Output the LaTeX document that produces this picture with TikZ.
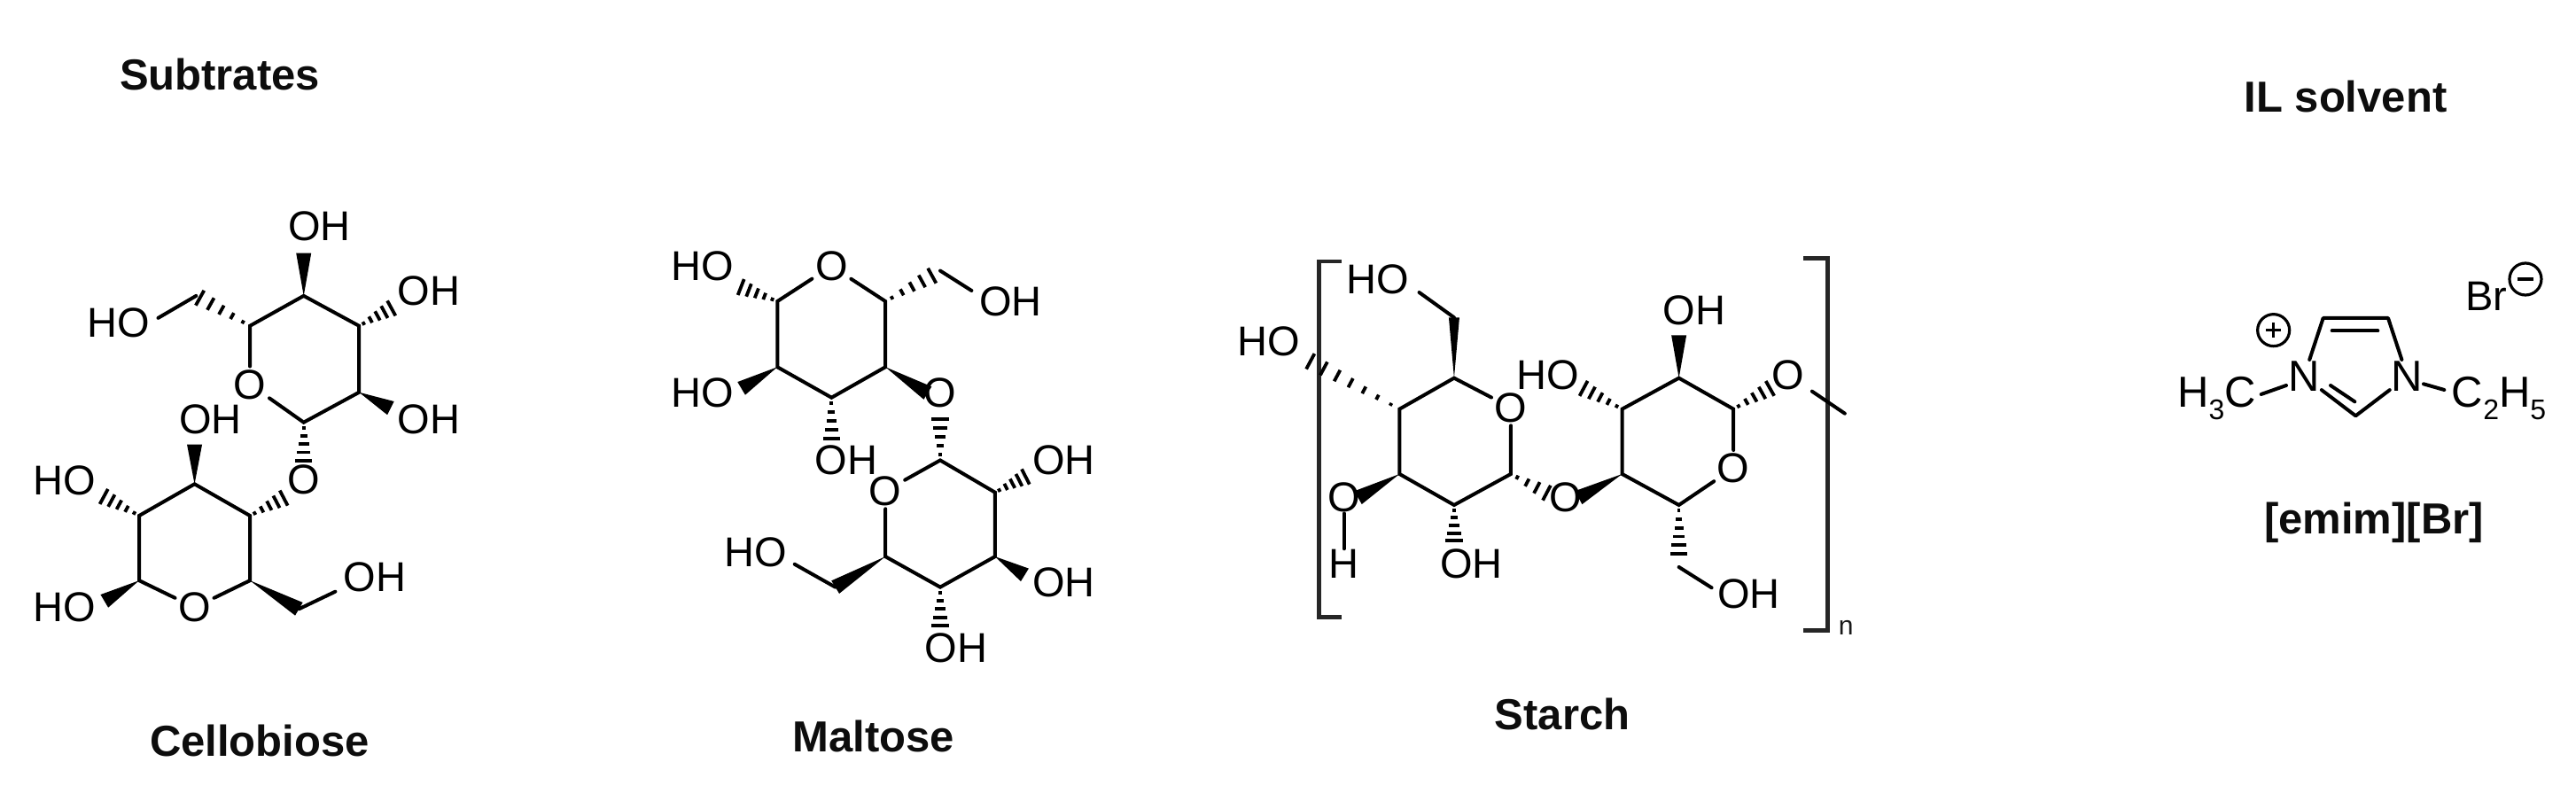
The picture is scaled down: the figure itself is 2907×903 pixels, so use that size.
\documentclass[tikz,border=0pt]{standalone}
\usepackage{fontspec}
\setmainfont{Liberation Sans}
\usetikzlibrary{calc}
\newcommand\subsc[1]{\raisebox{-0.28em}{\fontsize{32}{32}\selectfont #1}}
\newcommand\wdg[3][8.5]{\fill[black,line join=round] (#2) -- ($(#3)!#1pt!90:(#2)$) -- ($(#3)!#1pt!-90:(#2)$) -- cycle;}
\newcommand\hsh[3][5]{\foreach \hI in {1,...,#1}{%
  \pgfmathsetmacro\hT{(\hI-0.35)/#1}\pgfmathsetmacro\hW{\hT*9.5+0.8}%
  \draw[hashline] ($(#2)!\hT!(#3)!\hW pt!90:(#3)$) -- ($(#2)!\hT!(#3)!\hW pt!-90:(#3)$);}}
\tikzset{
  atomlabel/.style={font=\fontsize{47}{50}\selectfont,inner sep=3.5pt,text=black},
  title/.style={font=\fontsize{49}{54}\selectfont\bfseries,inner sep=0pt,text=black!95},
  bondline/.style={line width=4pt,line cap=round,black},
  hashline/.style={line width=3.8pt,black},
  bracketline/.style={line width=4.8pt,black!85,line join=miter},
  chargering/.style={circle,draw=black,line width=3.2pt,minimum size=36pt,inner sep=0pt},
}
\begin{document}
\begin{tikzpicture}[x=1pt,y=-1pt]
\useasboundingbox (0,0) rectangle (2907,903);
\fill[white] (0,0) rectangle (2907,903);
% titles
\node[title] (tsub) at (248,84) {Subtrates};
\node[title] (tcel) at (293,836) {Cellobiose};
\node[title] (tmal) at (986,831) {Maltose};
\node[title] (tsta) at (1763,806) {Starch};
\node[title] (tils) at (2647,109) {IL solvent};
\node[title] (tem) at (2679,590) {[emim][Br]};

% ---------- Cellobiose
\begin{scope}[shift={(0,200)},x=0.357pt,y=-0.357pt]
\coordinate (a1) at (790,470); \coordinate (a2) at (960,375); \coordinate (a3) at (1135,470);
\coordinate (a4) at (1135,680); \coordinate (a5) at (960,775);
\node[atomlabel] (aO) at (790,655) {O};
\node[atomlabel] (aOb) at (960,955) {O};
\node[atomlabel] (aoh1) at (1010,155) {OH};
\node[atomlabel] (aoh2) at (1355,360) {OH};
\node[atomlabel] (aoh3) at (1355,765) {OH};
\node[atomlabel] (aho) at (375,460) {HO};
\coordinate (ae1) at (960,240); \coordinate (ae2) at (1245,410); \coordinate (ae3) at (1235,730);
\coordinate (ach) at (620,375); \coordinate (ae4) at (960,905); \coordinate (ae5) at (500,445);
\draw[bondline] (aO) -- (a1) -- (a2) -- (a3) -- (a4) -- (a5) -- (aO);
\wdg{a2}{ae1} \hsh{a3}{ae2} \wdg{a4}{ae3} \hsh{a1}{ach} \hsh{a5}{ae4}
\draw[bondline] (ach) -- (ae5);
\coordinate (b1) at (790,1070); \coordinate (b2) at (615,970); \coordinate (b3) at (440,1070);
\coordinate (b4) at (440,1275); \coordinate (b5) at (790,1275);
\node[atomlabel] (bO) at (615,1360) {O};
\node[atomlabel] (boh1) at (665,765) {OH};
\node[atomlabel] (bho1) at (205,960) {HO};
\node[atomlabel] (bho2) at (205,1360) {HO};
\node[atomlabel] (boh2) at (1185,1265) {OH};
\coordinate (be1) at (615,845); \coordinate (be2) at (320,1005); \coordinate (be3) at (905,1010);
\coordinate (be4) at (330,1340); \coordinate (bch) at (945,1365); \coordinate (be5) at (1060,1310);
\draw[bondline] (b4) -- (b3) -- (b2) -- (b1) -- (b5) -- (bO) -- (b4);
\wdg{b2}{be1} \hsh{b3}{be2} \hsh{b1}{be3} \wdg{b4}{be4} \wdg{b5}{bch}
\draw[bondline] (bch) -- (be5);
\end{scope}

% ---------- Maltose
\begin{scope}[shift={(720,240)},x=0.3534pt,y=-0.345pt]
\node[atomlabel] (cO) at (618,175) {O};
\coordinate (c1) at (445,290); \coordinate (c2) at (445,505); \coordinate (c3) at (618,605);
\coordinate (c4) at (790,505); \coordinate (c5) at (790,290);
\node[atomlabel] (cho1) at (205,175) {HO};
\node[atomlabel] (cho2) at (205,590) {HO};
\node[atomlabel] (coh1) at (1190,290) {OH};
\node[atomlabel] (coh2) at (665,810) {OH};
\node[atomlabel] (cOb) at (965,590) {O};
\coordinate (ce1) at (320,240); \coordinate (cch) at (950,200); \coordinate (ce2) at (1065,255);
\coordinate (ce3) at (330,575); \coordinate (ce4) at (618,750); \coordinate (ce5) at (925,590);
\coordinate (ch0) at (965,190);
\draw[bondline] (cO) -- (c1) -- (c2) -- (c3) -- (c4) -- (c5) -- (cO);
\hsh{c1}{ce1} \hsh{c5}{cch} \draw[bondline] (ch0) -- (ce2);
\wdg{c2}{ce3} \hsh{c3}{ce4} \wdg{c4}{ce5}
\coordinate (d1) at (965,810); \coordinate (d2) at (1140,915); \coordinate (d3) at (1140,1125);
\coordinate (d4) at (965,1225); \coordinate (d5) at (790,1125);
\node[atomlabel] (dO) at (790,910) {O};
\node[atomlabel] (doh1) at (1360,810) {OH};
\node[atomlabel] (doh2) at (1360,1210) {OH};
\node[atomlabel] (doh3) at (1015,1425) {OH};
\node[atomlabel] (dho) at (375,1110) {HO};
\coordinate (de0) at (965,665); \coordinate (de1) at (1245,860); \coordinate (de2) at (1235,1185);
\coordinate (de3) at (965,1360); \coordinate (dch) at (630,1225); \coordinate (de4) at (500,1150);
\draw[bondline] (dO) -- (d1) -- (d2) -- (d3) -- (d4) -- (d5) -- (dO);
\hsh{d1}{de0} \hsh{d2}{de1} \wdg{d3}{de2} \hsh{d4}{de3} \wdg{d5}{dch}
\draw[bondline] (dch) -- (de4);
\end{scope}

% ---------- Starch
\begin{scope}[shift={(1370,260)},x=0.4926pt,y=-0.3333pt]
\coordinate (bl1) at (292,105); \coordinate (bl2) at (240,105); \coordinate (bl3) at (240,1310); \coordinate (bl4) at (292,1310);
\coordinate (br1) at (1350,95); \coordinate (br2) at (1405,95); \coordinate (br3) at (1405,1355); \coordinate (br4) at (1350,1355);
\draw[bracketline] (bl1) -- (bl2) -- (bl3) -- (bl4);
\draw[bracketline] (br1) -- (br2) -- (br3) -- (br4);
\node[font=\fontsize{30}{32}\selectfont,inner sep=0pt,text=black!90] (nn) at (1448,1345) {n};
\coordinate (e1) at (550,500); \coordinate (e3) at (680,825); \coordinate (e4) at (550,930);
\coordinate (e5) at (425,825); \coordinate (e6) at (425,605);
\node[atomlabel] (eO) at (680,600) {O};
\node[atomlabel] (eho1) at (375,165) {HO};
\node[atomlabel] (eho2) at (125,375) {HO};
\node[atomlabel,inner sep=1pt] (eOh) at (298,905) {O};
\node[atomlabel,inner sep=1pt] (eH) at (298,1130) {H};
\node[atomlabel] (eoh) at (590,1130) {OH};
\node[atomlabel] (eOb) at (805,905) {O};
\coordinate (ech) at (550,295); \coordinate (ee1) at (470,210); \coordinate (ee2) at (210,435);
\coordinate (ee3) at (330,905); \coordinate (ee4) at (550,1060); \coordinate (ee5) at (770,895);
\draw[bondline] (eO) -- (e1) -- (e6) -- (e5) -- (e4) -- (e3) -- (eO);
\wdg[6]{e1}{ech} \draw[bondline] (ech) -- (ee1);
\hsh[7]{e6}{ee2} \wdg{e5}{ee3} \draw[bondline] (eOh) -- (eH);
\hsh{e4}{ee4} \hsh[4]{e3}{ee5}
\coordinate (f1) at (1065,500); \coordinate (f2) at (1190,605); \coordinate (f4) at (1065,930);
\coordinate (f5) at (935,825); \coordinate (f6) at (935,605);
\node[atomlabel] (fO) at (1190,805) {O};
\node[atomlabel] (foh1) at (1100,270) {OH};
\node[atomlabel] (fho) at (765,490) {HO};
\node[atomlabel] (fOe) at (1315,490) {O};
\node[atomlabel] (foh2) at (1225,1230) {OH};
\coordinate (fe1) at (1065,355); \coordinate (fe2) at (840,530); \coordinate (fe3) at (1280,530);
\coordinate (fe4) at (835,905); \coordinate (fe5) at (1065,1105); \coordinate (fe6) at (1065,1140);
\coordinate (fe7) at (1140,1210); \coordinate (fe8) at (1370,545); \coordinate (fe9) at (1445,620);
\draw[bondline] (fO) -- (f2) -- (f1) -- (f6) -- (f5) -- (f4) -- (fO);
\wdg{f1}{fe1} \hsh{f6}{fe2} \hsh{f2}{fe3} \wdg{f5}{fe4} \hsh[6]{f4}{fe5}
\draw[bondline] (fe6) -- (fe7);
\draw[bondline] (fe8) -- (fe9);
\end{scope}

% ---------- [emim][Br]
\begin{scope}[shift={(2420,260)},x=0.3333pt,y=-0.3333pt]
\node[atomlabel,font=\fontsize{49}{52}\selectfont,inner sep=2pt] (n1) at (540,495) {N};
\node[atomlabel,font=\fontsize{49}{52}\selectfont,inner sep=2pt] (n2) at (890,495) {N};
\coordinate (g1) at (605,297); \coordinate (g2) at (825,297); \coordinate (g3) at (715,628);
\coordinate (g4) at (635,340); \coordinate (g5) at (790,340);
\coordinate (g6) at (630,525); \coordinate (g7) at (712,580);
\coordinate (g8) at (395,555); \coordinate (g9) at (480,525);
\coordinate (g10) at (945,520); \coordinate (g11) at (1015,540);
\draw[bondline,line join=round] (n1) -- (g1) -- (g2) -- (n2) -- (g3) -- (n1);
\draw[bondline] (g4) -- (g5);
\draw[bondline] (g6) -- (g7);
\draw[bondline] (g8) -- (g9);
\draw[bondline] (g10) -- (g11);
\node[atomlabel,font=\fontsize{49}{52}\selectfont,anchor=base east,inner sep=0pt] (hc) at (378,600) {H\subsc{3}C};
\node[atomlabel,font=\fontsize{49}{52}\selectfont,anchor=base west,inner sep=0pt] (ch) at (1040,600) {C\subsc{2}H\subsc{5}};
\node[atomlabel,anchor=base,inner sep=0pt] (br) at (1157,272) {Br};
\node[chargering] (pl) at (437,338) {};
\node[chargering] (mi) at (1290,165) {};
\coordinate (pa) at (412,338); \coordinate (pb) at (462,338);
\coordinate (pc) at (437,313); \coordinate (pd) at (437,363);
\coordinate (ma) at (1262,165); \coordinate (mb) at (1318,165);
\draw[line width=3.4pt,black] (pa) -- (pb);
\draw[line width=3.4pt,black] (pc) -- (pd);
\draw[line width=3.4pt,black] (ma) -- (mb);
\end{scope}
\end{tikzpicture}
\end{document}
